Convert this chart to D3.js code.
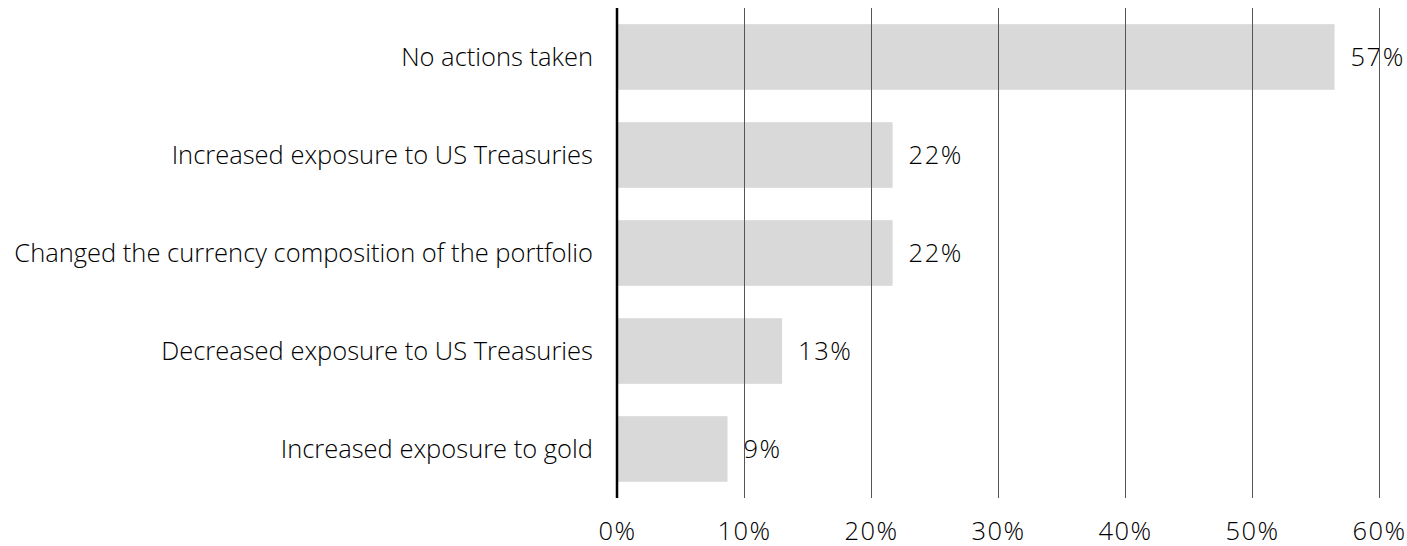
<!DOCTYPE html>
<html>
<head>
<meta charset="utf-8">
<script src="https://cdn.jsdelivr.net/npm/d3@7"></script>
<style>
  body { margin: 0; background: #fff; }
  svg text { font-family: "Open Sans", sans-serif; font-weight: 300; fill: #000; }
</style>
</head>
<body>
<svg id="chart" width="1407" height="546"></svg>
<script>
// survey answers, top to bottom
const categories = [
    "No actions taken",
    "Increased exposure to US Treasuries",
    "Changed the currency composition of the portfolio",
    "Decreased exposure to US Treasuries",
    "Increased exposure to gold"
];
const shares = [56.5, 21.7, 21.7, 13.0, 8.7];
const xTicks = [0, 10, 20, 30, 40, 50, 60];

const svg = d3.select("#chart");
const plotLeft = 617, plotRight = 1379, plotTop = 8, plotBottom = 498;

const x = d3.scaleLinear().domain([0, 60]).range([plotLeft, plotRight]);
const y = d3.scaleBand().domain(categories).range([plotTop, plotBottom]).paddingInner(0.33).paddingOuter(0.165);

// bars
svg.append("g").selectAll("rect")
    .data(shares)
    .join("rect")
    .attr("x", x(0))
    .attr("y", (d, i) => y(categories[i]))
    .attr("width", d => x(d) - x(0))
    .attr("height", y.bandwidth())
    .attr("fill", "#d9d9d9");

// value labels
svg.append("g").selectAll("text")
    .data(shares)
    .join("text")
    .attr("x", d => x(d) + 16)
    .attr("y", (d, i) => y(categories[i]) + y.bandwidth() / 2)
    .attr("dy", "0.35em")
    .style("font-size", "25.5px")
    .style("letter-spacing", "1.5px")
    .text(d => Math.round(d) + "%");

// grid + x axis
const xAxis = svg.append("g")
    .attr("transform", `translate(0,${plotBottom})`)
    .call(d3.axisBottom(x).tickValues(xTicks).tickSize(-(plotBottom - plotTop)).tickFormat(d => d + "%"));
xAxis.select(".domain").remove();
xAxis.attr("font-family", null).attr("font-size", null);
xAxis.selectAll(".tick line").attr("stroke", "#555").attr("stroke-width", 1);
xAxis.selectAll(".tick text")
    .attr("y", 24)
    .style("font-size", "25.5px")
    .style("letter-spacing", "1.5px");

// zero line
svg.append("line")
    .attr("x1", x(0)).attr("x2", x(0))
    .attr("y1", plotTop).attr("y2", plotBottom)
    .attr("stroke", "#000")
    .attr("stroke-width", 2.5);

// category labels
svg.append("g").selectAll("text")
    .data(categories)
    .join("text")
    .attr("x", plotLeft - 24)
    .attr("y", d => y(d) + y.bandwidth() / 2)
    .attr("dy", "0.35em")
    .attr("text-anchor", "end")
    .style("font-size", "25.5px")
    .text(d => d);
</script>
</body>
</html>
